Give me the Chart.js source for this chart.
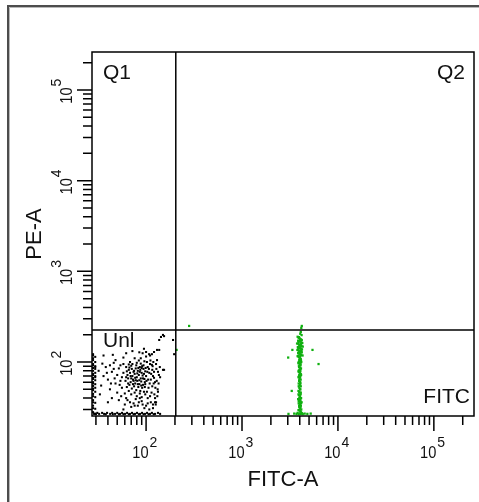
<!DOCTYPE html>
<html>
<head>
<meta charset="utf-8">
<script src="https://cdn.jsdelivr.net/npm/chart.js@4/dist/chart.umd.min.js"></script>
<style>
  html, body { margin: 0; padding: 0; background: #fff; }
  #wrap { width: 479px; height: 502px; }
</style>
</head>
<body>
<div id="wrap"><canvas id="dotPlot" width="479" height="502"></canvas></div>
<script>
// FITC-A vs PE-A dot plot, log axes up to 2^18
const xRange = [27.3, 262144];
const yRange = [25.4, 262144];
const xGate = 204;
const yGate = 225;
const quadLabels = ["Q1", "Q2", "Unl", "FITC"];
const axisTitles = ["FITC-A", "PE-A"];

// unstained events (black) [FITC-A, PE-A]
const unlEvents = [
  // piled on the left edge
  [28,122],[29.5,114],[28,105],[29.5,100],[28,95],[29.5,90],[28,86],[29.5,84],[28,80],[29.5,76],
  [28,72],[29.5,70],[28,67],[29.5,63],[28,60],[29.5,57],[28,54.5],[29.5,52],[28,49],[29.5,47],
  [28,44.5],[29.5,41],[28,38],[29.5,35.5],[28,33],[29.5,30.5],[28,28],[29.5,27],[28,118],[28,110],
  [28,92],[28,74],[28,65],[28,58],[28,51],[28,42],[28,36],[28,31],[29.5,88],[29.5,68],
  // piled on the bottom edge
  [28.7,26.8],[31,27.5],[32.4,26.8],[34.8,27.5],[36.5,26.8],[39.2,27.5],[42.2,26.8],[44.3,27.5],[47.5,26.8],[50,27.5],
  [53.6,26.8],[56.2,27.5],[60.4,26.8],[63.4,27.5],[68,26.8],[71.4,27.5],[76.7,26.8],[80.5,27.5],[86.6,26.8],[90.8,27.5],
  [97.6,26.8],[102.4,27.5],[110,26.8],[115,27.5],[124,26.8],[133,27.5],[140,26.8],[30,26.6],[38,26.6],[45,26.6],
  [52,26.6],[58,26.6],[66,26.6],[74,26.6],[84,26.6],[94,26.6],[106,26.6],[120,26.6],
  // main cloud
  [62,88],[66,82],[70,91],[74,78],[78,85],[82,80],[86,88],[90,76],[94,84],[98,79],
  [64,72],[68,76],[72,70],[76,74],[80,68],[84,72],[88,66],[92,71],[96,65],[100,70],
  [61,62],[65,66],[69,60],[73,64],[77,58],[81,62],[85,57],[89,61],[93,56],[97,60],
  [63,53],[67,56],[71,51],[75,54],[79,49],[83,53],[87,48],[91,52],[95,47],[60,45],
  [66,48],[70,44],[76,46],[80,42],[86,45],[90,41],[72,95],[80,98],[88,96],[68,100],
  [84,104],[76,110],
  [63,79],[67,87],[71,84],[75,80],[79,92],[83,86],[87,82],[91,90],[95,74],[99,86],
  [65,58],[69,70],[73,57],[77,67],[81,75],[85,63],[89,55],[93,66],[97,53],[101,62],
  [62,68],[74,62],[86,78],[98,57],[70,66],[82,57],[94,92],[78,63],[90,86],[66,94],
  // left side of cloud
  [36,70],[40,64],[44,78],[48,58],[52,85],[56,68],[42,50],[50,46],[54,92],[46,98],
  [38,88],[58,76],[34,55],[56,52],[44,40],[52,38],[60,34],[40,36],[48,105],[58,112],
  [36,118],[32,80],[33,44],[45,120],
  [42,92],[46,84],[50,72],[54,62],[58,95],[47,66],[53,56],[39,76],[35,96],[43,58],
  // right side of cloud
  [104,88],[108,76],[112,64],[116,82],[120,58],[106,52],[114,46],[102,100],[110,95],[118,70],
  [124,60],[128,84],[132,50],[122,44],[136,72],[104,40],[112,36],[126,34],[100,115],[115,122],
  [92,125],[130,105],
  [105,64],[109,58],[113,74],[117,90],[121,67],[125,52],[129,62],[133,78],[103,78],[107,84],
  [111,104],[119,100],[127,95],[135,58],[139,88],[102,47],[110,42],[116,54],[124,40],[131,42],
  // low band
  [64,38],[74,35],[82,33],[90,37],[96,31],[70,32],[58,30],[86,40],[78,39],[100,33],
  [118,31],[108,30],
  [55,42],[62,40],[68,36],[76,33],[84,36],[92,34],[98,44],[104,35],[88,110],[96,102],
  // sparse outliers
  [143,189],[154,193],[137,175],[137,136],[121,129],[107.5,122],[100,129],[154,82],[140,68],[121,78],
  [115,93],[127,36],[118,34],[196,122],[191,175],[150,199],[130,136],[150,82],[133,47],[124,36],
  [62,125],[72,132],[85,128],[95,140],[110,118]
];

// FITC stained events (green) [FITC-A, PE-A]
const fitcEvents = [
  [4200,250],[4150,238],[4100,215],[4050,205],[4180,198],
  [3800,190],[3900,185],[4000,182],[4100,178],[4200,175],[3850,172],[3950,170],[4050,168],[4150,165],[4250,162],
  [3750,160],[3880,158],[3980,155],[4080,152],[4180,150],[4300,148],[3820,146],[3920,144],[4020,142],[4120,140],
  [4220,138],[3780,136],[3900,134],[4000,132],[4100,130],[4200,128],[3850,126],[3950,124],[4050,122],[4150,120],
  [4280,118],[3800,116],
  [3900,114],[4000,111],[4100,108],[3950,105],[4050,102],[4150,100],[3870,97],[3980,95],[4080,92],[3920,90],
  [4020,87],[4120,85],[3960,82],[4060,80],[3900,78],[4000,76],[4100,74],[3950,72],[4050,70],[3880,68],
  [3990,66],[4090,64],[3940,62],[4040,60],
  [3900,58],[4000,56],[4100,54],[3960,52],[4060,50],[3880,48],[3990,46],[4090,44],[3930,43],[4030,41],
  [4130,40],[3850,39],[3970,38],[4070,37],[4180,36],[3900,35],[4010,34],[4110,33],[3950,32],[4050,31],
  [4150,30],[3880,29.5],[4000,29],[4100,28.5],
  [3920,188],[4030,176],[3880,166],[4120,158],[3960,150],[4060,146],[3860,140],[4160,134],[3940,128],[4040,124],
  [3880,118],[4060,116],[3980,112],[4120,104],[3900,100],[4000,98],[4080,96],[3940,88],[4060,84],[3890,80],
  [4010,78],[4130,72],[3930,70],[4030,68],[3960,64],[4070,58],[3900,54],[4020,50],[3940,47],[4100,46],
  [3880,44],[4010,42],[3960,40],[4060,39],[3900,37],[4000,36],[4120,35],[3940,33],[4060,32],[3980,30],
  // piled on the bottom edge
  [3050,26.8],[3500,27],[3700,26.8],[3800,27.5],[3900,26.6],[4000,27.2],[4100,26.8],[4200,27.4],[4300,26.7],[4500,27],
  [4800,26.8],[5200,27],
  // outliers
  [3350,136],[3030,112],[5430,136],[6280,95],[3300,48],[208,136],[281,250]
];

const FONT = '"Liberation Sans", Arial, sans-serif';
Chart.defaults.font.family = FONT;

// 1..9 x decade ticks, majors on powers of ten
function logTicks(range) {
  const out = [];
  for (let d = 10; d <= 1e5; d *= 10) {
    for (let m = 1; m <= 9; m++) {
      const v = m * d;
      if (v >= range[0] && v <= range[1]) out.push({ value: v, major: m === 1 });
    }
  }
  return out;
}

function powerLabel(c, exp, endX, baseY) {
  c.save();
  c.font = '17px ' + FONT;
  c.textAlign = 'right';
  c.textBaseline = 'alphabetic';
  c.translate(endX, baseY);
  c.scale(0.86, 1);
  c.fillText('10', 0, 0);
  c.restore();
  c.font = '14px ' + FONT;
  c.textAlign = 'left';
  c.textBaseline = 'alphabetic';
  c.fillText(String(exp), endX + 1, baseY - 11);
}

const flowDecor = {
  id: 'flowDecor',
  beforeDraw(chart) {
    const c = chart.ctx;
    c.save();
    c.fillStyle = '#fff';
    c.fillRect(0, 0, chart.width, chart.height);
    // etched panel frame
    c.strokeStyle = '#4d4d4d';
    c.lineWidth = 2;
    c.beginPath();
    c.moveTo(8, chart.height); c.lineTo(8, 6); c.lineTo(chart.width, 6);
    c.stroke();
    c.strokeStyle = '#b8b8b8';
    c.lineWidth = 1;
    c.beginPath();
    c.moveTo(9.5, chart.height); c.lineTo(9.5, 7.5); c.lineTo(chart.width, 7.5);
    c.stroke();
    c.restore();
  },
  afterDatasetsDraw(chart) {
    const { ctx: c, chartArea: a, scales: { x, y } } = chart;
    c.save();
    c.strokeStyle = '#000';
    c.lineWidth = 1.5;
    c.strokeRect(a.left, a.top, a.right - a.left, a.bottom - a.top);

    c.lineWidth = 1.5;
    c.beginPath();
    x.ticks.forEach(t => {
      const px = x.getPixelForValue(t.value);
      c.moveTo(px, a.bottom);
      c.lineTo(px, a.bottom + (t.major ? 15 : 9));
    });
    y.ticks.forEach(t => {
      const py = y.getPixelForValue(t.value);
      c.moveTo(a.left, py);
      c.lineTo(a.left - (t.major ? 15 : 9), py);
    });
    c.stroke();

    c.fillStyle = '#111';
    x.ticks.filter(t => t.major).forEach(t => {
      powerLabel(c, Math.round(Math.log10(t.value)), x.getPixelForValue(t.value) + 2.5, a.bottom + 42);
    });
    y.ticks.filter(t => t.major).forEach(t => {
      c.save();
      c.translate(a.left - 20, y.getPixelForValue(t.value));
      c.rotate(-Math.PI / 2);
      powerLabel(c, Math.round(Math.log10(t.value)), 2.5, 0);
      c.restore();
    });

    // quadrant names
    const gy = y.getPixelForValue(yGate);
    c.font = '21px ' + FONT;
    c.textBaseline = 'alphabetic';
    c.textAlign = 'left';
    c.fillText(quadLabels[0], a.left + 11, a.top + 27);
    c.fillText(quadLabels[2], a.left + 11, gy + 17);
    c.textAlign = 'right';
    c.fillText(quadLabels[1], a.right - 9, a.top + 27);
    c.fillText(quadLabels[3], a.right - 4, a.bottom - 13);
    c.restore();
  }
};

const toPoints = list => list.map(([x, y]) => ({ x, y }));

new Chart(document.getElementById('dotPlot'), {
  type: 'scatter',
  data: {
    datasets: [
      {
        label: 'x gate',
        data: [{ x: xGate, y: yRange[0] }, { x: xGate, y: yRange[1] }],
        showLine: true, borderColor: '#000', borderWidth: 1.5, pointRadius: 0
      },
      {
        label: 'y gate',
        data: [{ x: xRange[0], y: yGate }, { x: xRange[1], y: yGate }],
        showLine: true, borderColor: '#000', borderWidth: 1.5, pointRadius: 0
      },
      {
        label: 'FITC',
        data: toPoints(fitcEvents),
        pointStyle: 'rect', pointRadius: 1.6, borderWidth: 0,
        backgroundColor: '#10b010'
      },
      {
        label: 'Unl',
        data: toPoints(unlEvents),
        pointStyle: 'rect', pointRadius: 1.45, borderWidth: 0,
        backgroundColor: '#000'
      }
    ]
  },
  options: {
    responsive: false,
    animation: false,
    events: [],
    layout: { padding: { top: 52, right: 5, bottom: 0, left: 0 } },
    plugins: { legend: { display: false }, tooltip: { enabled: false } },
    scales: {
      x: {
        type: 'logarithmic',
        min: xRange[0], max: xRange[1],
        grid: { display: false }, border: { display: false },
        ticks: { display: false },
        afterBuildTicks: s => { s.ticks = logTicks(xRange); },
        afterFit: s => { s.height = 86; },
        title: { display: true, text: axisTitles[0], color: '#111', font: { size: 22 }, padding: { top: 0, bottom: 9 } }
      },
      y: {
        type: 'logarithmic',
        min: yRange[0], max: yRange[1],
        grid: { display: false }, border: { display: false },
        ticks: { display: false },
        afterBuildTicks: s => { s.ticks = logTicks(yRange); },
        afterFit: s => { s.width = 92; },
        title: { display: true, text: axisTitles[1], color: '#111', font: { size: 22 }, padding: { top: 22, bottom: 0 } }
      }
    }
  },
  plugins: [flowDecor]
});
</script>
</body>
</html>
